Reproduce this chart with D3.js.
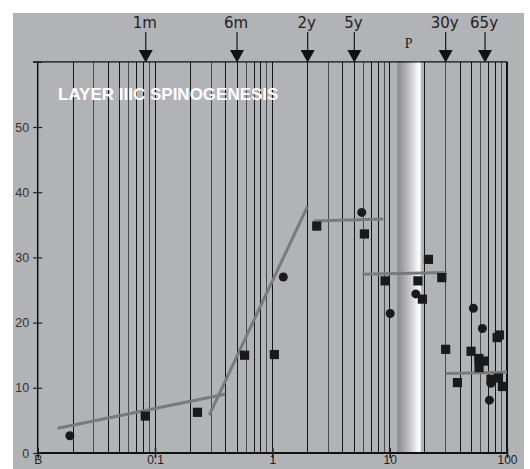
<!DOCTYPE html>
<html>
<head>
<meta charset="utf-8">
<script src="https://cdn.jsdelivr.net/npm/d3@7"></script>
<style>
  html, body { margin: 0; padding: 0; background: #fff; }
  svg { display: block; }
</style>
</head>
<body>
<svg id="chart" width="530" height="469"></svg>
<script>
// ---- data (age in years, spine density) ----
const xTickValues = [0.01, 0.1, 1, 10, 100];
const xTickLabels = ["B", "0.1", "1", "10", "100"];
const yTickValues = [0, 10, 20, 30, 40, 50, 60];
const yTickLabels = ["0", "10", "20", "30", "40", "50", ""];

const milestoneLabels = ["1m", "6m", "2y", "5y", "30y", "65y"];
const milestoneAges = [1 / 12, 0.5, 2, 5, 30, 65];

const pubertyLabel = "P";
const pubertyRange = [11.6, 18.8];

const circleAges = [0.0188, 1.24, 5.78, 16.7, 10.1, 51.7, 61.7, 72.9, 70.8];
const circleValues = [2.65, 27.0, 36.9, 24.4, 21.4, 22.2, 19.1, 10.7, 8.1];

const squareAges = [0.0826, 0.23, 0.58, 1.04, 2.39, 6.09, 21.4, 9.14, 17.4, 27.8, 19.0,
                    30, 49.4, 57.5, 64.2, 57.8, 37.8, 73.1, 84.5, 91.4, 86.1, 82.4];
const squareValues = [5.67, 6.24, 15.0, 15.1, 34.8, 33.6, 29.7, 26.4, 26.4, 26.9, 23.6,
                      15.9, 15.6, 14.5, 14.1, 13.1, 10.8, 11.3, 11.5, 10.2, 18.1, 17.7];

// trend segments: [startAge, startValue, endAge, endValue]
const trendSegments = [
  [0.0148, 3.8, 0.395, 9.0],
  [0.29, 5.8, 1.99, 37.8],
  [2.24, 35.6, 8.84, 35.9],
  [5.85, 27.4, 30.7, 27.7],
  [30, 12.2, 100, 12.4]
];

const title = "LAYER IIIC SPINOGENESIS";

// ---- drawing ----
const svg = d3.select("#chart");
const x = d3.scaleLog().domain([0.01, 100]).range([37.7, 507]);
const y = d3.scaleLinear().domain([0, 60]).range([453, 61.8]);

svg.append("rect").attr("x", 13).attr("y", 13).attr("width", 511).attr("height", 470)
  .attr("fill", "#b2b3b7");

const defs = svg.append("defs");
const grad = defs.append("linearGradient").attr("id", "pgrad")
  .attr("x1", "0%").attr("x2", "100%").attr("y1", "0%").attr("y2", "0%");
[[0, "#8a8a8c"], [0.25, "#a4a4a6"], [0.6, "#d2d2d3"], [0.86, "#fbfbfb"], [0.94, "#f2f2f2"], [1, "#a9a9ab"]]
  .forEach(s => grad.append("stop").attr("offset", s[0]).attr("stop-color", s[1]));

// grid lines
const gridVals = [];
[0.01, 0.1, 1, 10].forEach(d => { for (let m = 1; m <= 9; m++) gridVals.push(d * m); });
svg.append("g").selectAll("line").data(gridVals.filter(v => v > 0.01)).join("line")
  .attr("x1", d => x(d)).attr("x2", d => x(d))
  .attr("y1", y(60)).attr("y2", y(0))
  .attr("stroke", (d, i) => (i % 3 === 1 ? "#4a4a4c" : "#151515")).attr("stroke-width", 1)
  .attr("shape-rendering", "crispEdges");
svg.append("line").attr("x1", x(100)).attr("x2", x(100)).attr("y1", y(60)).attr("y2", y(0))
  .attr("stroke", "#111").attr("stroke-width", 2);

// puberty band
svg.append("rect").attr("x", x(pubertyRange[0])).attr("y", y(60) - 0.8)
  .attr("width", x(pubertyRange[1]) - x(pubertyRange[0])).attr("height", y(0) - y(60) + 0.8)
  .attr("fill", "url(#pgrad)");
svg.append("text").attr("x", x(Math.sqrt(pubertyRange[0] * pubertyRange[1])) - 1).attr("y", 48)
  .attr("text-anchor", "middle").attr("font-family", "Liberation Serif").attr("font-size", 14)
  .attr("fill", "#222").text(pubertyLabel);

// frame lines
svg.append("line").attr("x1", 33).attr("x2", x(100)).attr("y1", y(60)).attr("y2", y(60))
  .attr("stroke", "#111").attr("stroke-width", 1.2);
svg.append("line").attr("x1", x(0.01)).attr("x2", x(0.01)).attr("y1", y(60)).attr("y2", y(0))
  .attr("stroke", "#111").attr("stroke-width", 1.5);
svg.append("line").attr("x1", x(0.01)).attr("x2", x(100) + 1).attr("y1", y(0)).attr("y2", y(0))
  .attr("stroke", "#111").attr("stroke-width", 2);

// y axis
const yAxis = svg.append("g").attr("transform", `translate(${x(0.01)},0)`)
  .call(d3.axisLeft(y).tickValues(yTickValues).tickSize(4.5).tickPadding(4)
    .tickFormat((d, i) => yTickLabels[i]));
yAxis.select(".domain").remove();
yAxis.selectAll(".tick line").attr("x1", -4.5).attr("x2", 4.5).attr("stroke", "#222").attr("stroke-width", 1.2);
yAxis.selectAll(".tick text").attr("font-family", "Liberation Sans").attr("font-size", 12.5).attr("fill", "#333");

// x axis
const xAxis = svg.append("g").attr("transform", `translate(0,${y(0)})`)
  .call(d3.axisBottom(x).tickValues(xTickValues).tickSize(5).tickPadding(0)
    .tickFormat((d, i) => xTickLabels[i]));
xAxis.select(".domain").remove();
xAxis.selectAll(".tick line").attr("y1", -5).attr("y2", 5).attr("stroke", "#222").attr("stroke-width", 1.6);
xAxis.selectAll(".tick text").attr("font-family", "Liberation Sans").attr("font-size", 12)
  .attr("fill", "#222").attr("y", 2.5).attr("dy", "0.71em");

// milestone arrows
const ms = svg.append("g").selectAll("g").data(milestoneAges).join("g")
  .attr("transform", d => `translate(${x(d)},0)`);
ms.append("line").attr("x1", 0).attr("x2", 0).attr("y1", 32).attr("y2", 51)
  .attr("stroke", "#222").attr("stroke-width", 1.3);
ms.append("path").attr("d", "M-7,50L7,50L0,62.5Z").attr("fill", "#111");
ms.append("text").attr("x", -1).attr("y", 28).attr("text-anchor", "middle")
  .attr("font-family", "DejaVu Sans").attr("font-size", 15).attr("fill", "#222")
  .text((d, i) => milestoneLabels[i]);

// title
svg.append("text").attr("x", 58).attr("y", 100)
  .attr("font-family", "Liberation Sans").attr("font-weight", "bold").attr("font-size", 17)
  .attr("fill", "#fff").text(title);

// trend lines
svg.append("g").selectAll("line").data(trendSegments).join("line")
  .attr("x1", d => x(d[0])).attr("y1", d => y(d[1]))
  .attr("x2", d => x(d[2])).attr("y2", d => y(d[3]))
  .attr("stroke", "#7a7a7c").attr("stroke-width", 3);

// points
svg.append("g").selectAll("rect").data(squareAges).join("rect")
  .attr("x", d => x(d) - 4.6).attr("y", (d, i) => y(squareValues[i]) - 4.6)
  .attr("width", 9.2).attr("height", 9.2).attr("fill", "#1a1a1a");
svg.append("g").selectAll("circle").data(circleAges).join("circle")
  .attr("cx", d => x(d)).attr("cy", (d, i) => y(circleValues[i])).attr("r", 4.5)
  .attr("fill", "#1a1a1a");
</script>
</body>
</html>
